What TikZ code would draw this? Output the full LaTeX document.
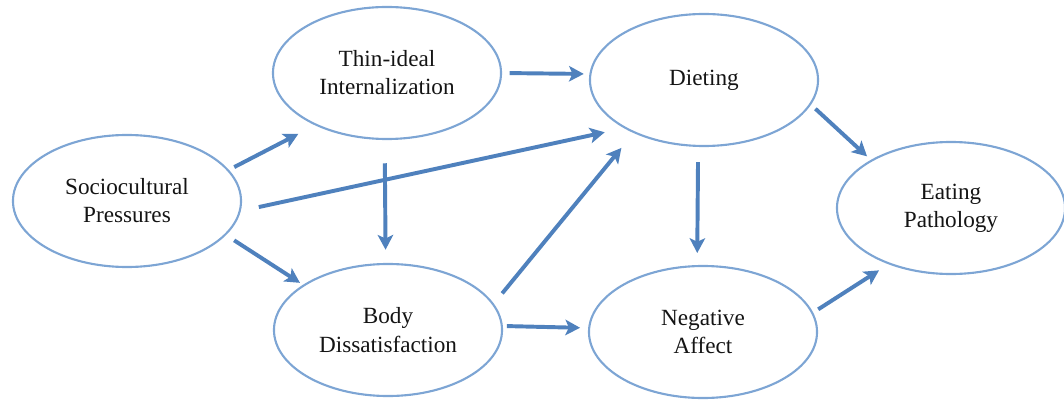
\documentclass[tikz,border=0pt]{standalone}
\usepackage{fontspec}
\setmainfont{Liberation Serif}
\usetikzlibrary{
    arrows.meta,
    shapes.geometric
}
\definecolor{pathblue}{RGB}{79,129,189}
\definecolor{rimblue}{RGB}{125,165,212}
\definecolor{labelgray}{RGB}{20,20,20}
\tikzset{
    % Node styles
    factor node/.style={
        draw=rimblue,
        line width=1.5pt,
        ellipse,
        minimum width=5.7cm,
        minimum height=3.3cm,
        inner sep=0pt,
        align=center,
        text=labelgray,
        font=\fontsize{16.5}{20}\selectfont
    },
    % Arrow styles
    path arrow/.style={
        -{Stealth[length=10.5pt,width=11pt,inset=2.5pt]},
        line width=2.8pt,
        pathblue
    }
}

\begin{document}
\begin{tikzpicture}[x=0.025cm, y=-0.025cm]
        \useasboundingbox (0,0) rectangle (1064,400);

        % Factors
        \node[factor node] at (127,201) (socio) {Sociocultural\\Pressures};
        \node[factor node] at (387,73) (thin) {Thin-ideal\\Internalization};
        \node[factor node] at (388,330) (body) {Body\\Dissatisfaction};
        \node[factor node] at (704,80) (diet) {Dieting};
        \node[factor node] at (703,332) (nega) {Negative\\Affect};
        \node[factor node] at (951,208) (eat) {Eating\\Pathology};

        % Paths
        \draw[path arrow, shorten <=0.15cm, shorten >=0.47cm] (socio.17) -- (thin.216);
        \draw[path arrow, shorten <=0.46cm, shorten >=0.49cm] (socio.-5) -- (diet.211);
        \draw[path arrow, shorten <=0.24cm, shorten >=0.09cm] (socio.-19) -- (body.152);
        \draw[path arrow, shorten <=0.19cm, shorten >=0.14cm] (thin.east) -- (diet.177);
        \draw[path arrow, shorten <=0.58cm, shorten >=0.33cm] (thin.268) -- (body.92);
        \draw[path arrow, shorten <=0.33cm, shorten >=0.48cm] (body.14) -- (diet.217);
        \draw[path arrow, shorten <=0.1cm, shorten >=0.2cm] (body.2) -- (nega.178);
        \draw[path arrow, shorten <=0.38cm, shorten >=0.3cm] (diet.265) -- (nega.95);
        \draw[path arrow, shorten <=0.15cm, shorten >=0.13cm] (diet.-13) -- (eat.149);
        \draw[path arrow, shorten <=0.15cm, shorten >=0.28cm] (nega.10) -- (eat.222);
    \end{tikzpicture}
\end{document}
